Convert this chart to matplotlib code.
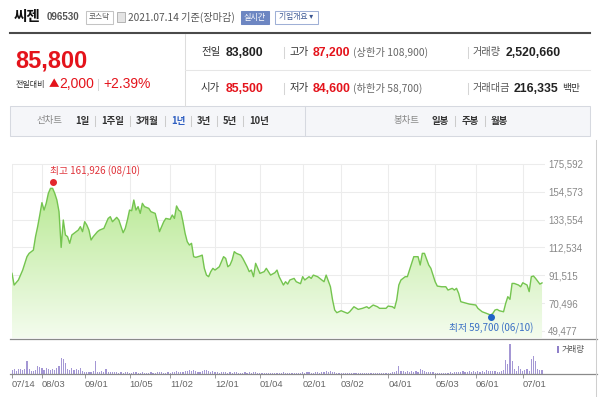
import numpy as np
import matplotlib
matplotlib.use('Agg')
import matplotlib.pyplot as plt
from matplotlib.colors import LinearSegmentedColormap
from matplotlib.patches import Rectangle
from matplotlib.lines import Line2D

plt.rcParams['font.family'] = ['Noto Sans CJK KR', 'DejaVu Sans']
KR = ['Noto Sans CJK KR', 'DejaVu Sans']
NUM = ['Liberation Sans', 'Noto Sans CJK KR', 'DejaVu Sans']

# ---- data ----
start_date = '2020-07-14'
kr_holidays = ['2020-08-17', '2020-09-30', '2020-10-01', '2020-10-02', '2020-10-09',
               '2020-12-25', '2020-12-31', '2021-01-01', '2021-02-11', '2021-02-12',
               '2021-03-01', '2021-05-05', '2021-05-19']
tick_dates = ['2020-07-14', '2020-08-03', '2020-09-01', '2020-10-05', '2020-11-02',
              '2020-12-01', '2021-01-04', '2021-02-01', '2021-03-02', '2021-04-01',
              '2021-05-03', '2021-06-01', '2021-07-01']
tick_labels = ['07/14', '08/03', '09/01', '10/05', '11/02', '12/01', '01/04',
               '02/01', '03/02', '04/01', '05/03', '06/01', '07/01']
price_ticks = [49477, 70496, 91515, 112534, 133554, 154573, 175592]

# trading day number (from 2020-07-14) and closing price
close_day = [0, 1, 3, 4, 5, 7, 8, 10, 11, 12, 13, 14, 15, 16, 17, 18, 19, 20, 21, 22,
             23, 24, 25, 26, 27, 28, 29, 31, 32, 33, 34, 35, 36, 37, 38, 40, 41, 43, 45, 46,
             47, 49, 50, 52, 53, 54, 55, 56, 57, 58, 59, 60, 61, 62, 64, 65, 67, 68, 69, 70,
             71, 72, 74, 75, 76, 77, 78, 79, 80, 81, 82, 83, 84, 85, 86, 88, 89, 90, 91, 92,
             93, 94, 95, 96, 97, 99, 100, 101, 102, 103, 104, 105, 107, 108, 110, 111, 112, 113, 114, 115,
             116, 118, 119, 120, 121, 123, 124, 125, 127, 128, 129, 130, 132, 133, 135, 136, 137, 139, 140, 141,
             143, 144, 146, 147, 149, 150, 151, 152, 154, 157, 158, 160, 162, 164, 166, 167, 169, 171, 172, 175,
             176, 178, 179, 180, 181, 182, 184, 185, 186, 188, 189, 190, 191, 192, 193, 195, 196, 198, 199, 201,
             203, 204, 206, 207, 208, 209, 210, 213, 214, 217, 218, 220, 222, 224, 225, 226, 227, 228, 230, 231,
             232, 233, 234, 235, 237, 238, 239, 241, 242, 243, 244, 245, 247, 248]
close = [93000, 84200, 88000, 91700, 95500, 105600, 108100, 110600, 120700, 128300,
         137100, 146400, 140800, 145900, 153400, 157200, 157200, 153400, 148400, 139600,
         112600, 133300, 122000, 120700, 115700, 122000, 123200, 125700, 128300, 124500,
         132000, 129500, 125700, 118200, 120700, 124500, 125700, 127000, 134500, 135800,
         132000, 135300, 133300, 123700, 127000, 133300, 140800, 140300, 148400, 140800,
         143400, 138300, 145900, 143400, 142100, 139600, 138300, 132000, 124500, 128300,
         132000, 134500, 133800, 137100, 134500, 143900, 140800, 139600, 132000, 123200,
         116900, 114400, 115700, 105600, 105100, 106100, 106800, 96800, 91700, 90500,
         94300, 96800, 95500, 96800, 98000, 105600, 104300, 98000, 99300, 103100,
         109400, 108100, 106800, 104300, 98000, 94300, 95500, 90500, 100600, 96800,
         93000, 94300, 96800, 94300, 91700, 93500, 95500, 90500, 84200, 86700,
         84900, 88000, 89200, 86700, 85200, 90500, 88000, 90500, 89200, 91700,
         90500, 89200, 86700, 91700, 82900, 72900, 65300, 63300, 64800, 62800,
         64000, 67800, 65800, 66600, 67800, 66600, 69100, 67800, 66600, 66600,
         68300, 67800, 66600, 72900, 84200, 88000, 90500, 90500, 95500, 105600,
         105600, 105600, 99300, 108100, 108100, 99300, 96800, 86700, 83400, 82900,
         82900, 80400, 81700, 80400, 81700, 77900, 71600, 70300, 69800, 69100,
         66600, 64000, 62800, 61500, 62800, 65300, 65800, 64800, 64000, 70300,
         75400, 73400, 85400, 85400, 84200, 82900, 85900, 84200, 79200, 90500,
         91000, 89200, 84900, 85800]

# daily volume, million shares
volume = [2.5, 3.2, 2.1, 2.8, 3.0, 2.4, 3.3, 8.0, 3.1, 2.0,
          1.8, 2.2, 4.8, 4.5, 3.9, 2.6, 3.4, 2.9, 2.3, 3.1,
          2.4, 3.6, 5.0, 9.6, 9.0, 6.5, 3.2, 2.7, 3.5, 2.6,
          2.9, 2.2, 3.4, 1.6, 1.3, 1.5, 1.1, 1.4, 1.6, 7.7,
          1.4, 1.2, 1.8, 1.0, 3.0, 1.3, 1.1, 1.4, 1.0, 1.2,
          0.9, 1.1, 0.8, 1.0, 1.2, 0.9, 0.8, 1.3, 1.1, 0.9,
          0.8, 1.0, 0.7, 0.9, 0.8, 1.1, 0.7, 0.8, 1.2, 1.4,
          1.0, 0.9, 0.8, 1.1, 0.9, 1.0, 1.2, 1.6, 1.1, 1.0,
          1.5, 2.1, 1.8, 2.4, 1.6, 2.3, 1.9, 1.3, 1.2, 2.0,
          2.6, 2.2, 1.7, 1.4, 1.9, 1.3, 1.1, 0.9, 1.2, 1.0,
          1.1, 0.9, 1.0, 0.8, 1.2, 1.0, 0.9, 0.7, 0.8, 1.0,
          0.9, 1.1, 0.8, 1.3, 1.0, 0.8, 0.7, 0.9, 0.8, 0.7,
          0.9, 0.8, 0.6, 0.8, 0.9, 0.7, 0.8, 1.0, 0.7, 0.6,
          0.7, 0.8, 0.9, 0.7, 0.6, 0.8, 1.0, 0.9, 1.2, 1.1,
          0.8, 0.9, 1.3, 1.0, 0.8, 1.1, 1.4, 1.6, 1.2, 1.8,
          1.5, 1.1, 0.9, 0.8, 0.7, 0.9, 0.6, 0.8, 0.7, 0.6,
          0.7, 0.6, 0.8, 0.7, 0.6, 0.7, 0.9, 0.6, 0.7, 0.8,
          0.6, 0.7, 0.8, 0.6, 0.7, 0.9, 0.8, 0.7, 1.0, 1.2,
          1.6, 5.2, 2.0, 1.8, 1.3, 1.9, 1.5, 1.7, 1.4, 2.1,
          1.2, 3.2, 2.4, 1.6, 1.1, 1.3, 1.0, 1.2, 0.9, 0.8,
          0.8, 0.9, 0.7, 0.8, 0.9, 1.1, 0.8, 1.0, 1.2, 1.4,
          1.1, 1.6, 1.3, 1.2, 1.8, 1.5, 1.7, 1.3, 2.0, 1.5,
          1.9, 1.4, 2.2, 1.7, 1.6, 1.8, 2.0, 1.5, 1.4, 2.1,
          2.6, 8.8, 6.3, 18.3, 8.2, 3.2, 1.9, 5.0, 3.2, 1.9,
          2.4, 3.2, 2.0, 9.5, 11.3, 8.2, 3.2, 2.5, 2.52]

high_date, high_val = '2020-08-10', 161926
low_date, low_val = '2021-06-10', 59700

left_tabs = ['1일', '1주일', '3개월', '1년', '3년', '5년', '10년']
right_tabs = ['일봉', '주봉', '월봉']

def tday(d):
    return np.busday_count(start_date, d, holidays=kr_holidays)

tick_idx = [tday(d) for d in tick_dates]
n_last = tday('2021-07-14')

# ---- figure helpers (pixel coords, y from top) ----
W, H = 600, 397
fig = plt.figure(figsize=(6, 3.97), dpi=100)
renderer = fig.canvas.get_renderer()

def fx(x):
    return x / W

def fy(y):
    return 1 - y / H

def txt(x, y, s, size=7.5, color='#333333', weight='normal', ha='left', family=KR):
    return fig.text(fx(x), fy(y), s, fontsize=size, color=color, fontweight=weight,
                    ha=ha, va='center', family=family)

def hline(x0, x1, y, color, lw=0.75):
    fig.add_artist(Line2D([fx(x0), fx(x1)], [fy(y), fy(y)], color=color, lw=lw,
                          transform=fig.transFigure))

def vline(x, y0, y1, color, lw=0.75):
    fig.add_artist(Line2D([fx(x), fx(x)], [fy(y0), fy(y1)], color=color, lw=lw,
                          transform=fig.transFigure))

def box(x0, y0, x1, y1, fc, ec, lw=0.75):
    fig.add_artist(Rectangle((fx(x0), fy(y1)), fx(x1) - fx(x0), fy(y0) - fy(y1),
                             transform=fig.transFigure, fc=fc, ec=ec, lw=lw))

def tab_row(labels, x, gap, active=None):
    for k, lab in enumerate(labels):
        if k > 0:
            vline(x - gap / 2, 116, 126, '#cccccc')
        col = '#2f5fc1' if lab == active else '#333333'
        t = txt(x, 121, lab, 6.8, col, 'bold')
        x += t.get_window_extent(renderer).width + gap

RED = '#e4131b'

# ---- header ----
txt(14, 16.5, '씨젠', 10.5, '#111111', 'bold')
txt(47, 17.5, '096530', 7, '#555555', 'bold', family=NUM)
box(86, 11, 113, 23.5, 'white', '#c4c4c4')
txt(99.5, 17.3, '코스닥', 5.5, '#555555', ha='center')
box(117, 12, 125, 22, '#e4e4e4', '#aaaaaa', 0.6)
txt(128, 17.5, '2021.07.14 기준(장마감)', 7.3, '#555555')
box(241, 11, 269, 23.5, '#6d86c2', '#6d86c2')
txt(255, 17.3, '실시간', 5.8, 'white', ha='center')
box(275, 11, 318, 23.5, 'white', '#9fb0d6')
txt(296.5, 17.3, '기업개요 ▾', 5.6, '#3a5591', ha='center')
hline(10, 590, 33, '#4a4a4a', 1.5)

# ---- price info ----
vline(185, 34, 106, '#dddddd')
hline(185, 590, 70, '#e6e6e6')
txt(15, 61, '85,800', 17, RED, 'bold', family=NUM)
txt(16, 85, '전일대비', 5.8, '#333333')
txt(48.5, 84.5, '▲', 7.5, RED)
txt(59, 84.5, '2,000', 10, RED, family=NUM)
vline(98, 79, 90, '#d5d5d5')
txt(103, 84.5, '+2.39%', 10, RED, family=NUM)

txt(201, 52.5, '전일', 7.5, '#333333')
txt(226, 52.5, '83,800', 8.8, '#222222', 'bold', family=NUM)
txt(201, 88.5, '시가', 7.5, '#333333')
txt(226, 88.5, '85,500', 8.8, RED, 'bold', family=NUM)

vline(284, 47, 58, '#d5d5d5')
vline(284, 83, 94, '#d5d5d5')
txt(290, 52.5, '고가', 7.5, '#333333')
txt(313, 52.5, '87,200', 8.8, RED, 'bold', family=NUM)
txt(353, 52.5, '(상한가 108,900)', 7.4, '#666666')
txt(290, 88.5, '저가', 7.5, '#333333')
txt(313, 88.5, '84,600', 8.8, RED, 'bold', family=NUM)
txt(353, 88.5, '(하한가 58,700)', 7.4, '#666666')

vline(468, 47, 58, '#d5d5d5')
vline(468, 83, 94, '#d5d5d5')
txt(473, 52.5, '거래량', 7.3, '#555555')
txt(506, 52.5, '2,520,660', 8.8, '#222222', 'bold', family=NUM)
txt(473, 88.5, '거래대금', 7.3, '#555555')
txt(514, 88.5, '216,335', 8.8, '#222222', 'bold', family=NUM)
txt(562, 88.5, '백만', 7, '#333333')

# ---- tab bar ----
box(10, 106, 590, 136, '#f5f6f9', '#d6d9e0')
vline(305, 106, 136, '#d6d9e0')
txt(37, 121, '선차트', 6.8, '#888888')
tab_row(left_tabs, 75, 12, active='1년')
txt(393, 121, '봉차트', 6.8, '#888888')
tab_row(right_tabs, 432, 12)

# ---- price chart ----
ylo, yhi = 44190, 189940
ax = fig.add_axes([fx(12), fy(338), fx(545) - fx(12), fy(145) - fy(338)])
ax.set_xlim(0, n_last + 1.4)
ax.set_ylim(ylo, yhi)
for s in ax.spines.values():
    s.set_visible(False)
ax.set_xticks([])
ax.set_yticks(price_ticks)
ax.set_yticklabels([f'{v:,}' for v in price_ticks], family=NUM)
ax.yaxis.tick_right()
ax.tick_params(axis='y', length=0, pad=2.2, labelsize=7, labelcolor='#888888')
ax.grid(axis='y', color='#ececec', lw=0.75, zorder=0)
ax.set_axisbelow(True)
ax.vlines(tick_idx, ylo, price_ticks[-1], color='#ececec', lw=0.75, zorder=0)

poly = ax.fill_between(close_day, close, ylo, color='none', lw=0)
cmap = LinearSegmentedColormap.from_list('g', ['#f4fcee', '#b6e890'])
grad = np.linspace(0, 1, 256).reshape(-1, 1)
im = ax.imshow(grad, extent=[0, n_last, ylo, 162000], aspect='auto', cmap=cmap,
               origin='lower', zorder=1)
im.set_clip_path(poly.get_paths()[0], ax.transData)
ax.set_xlim(0, n_last + 1.4)
ax.set_ylim(ylo, yhi)
ax.plot(close_day, close, color='#74c44f', lw=1.0, zorder=3)

hi_x = tday(high_date)
lo_x = tday(low_date)
ax.plot(hi_x, high_val, 'o', ms=4, color='#e3262d', zorder=4)
ax.annotate(f'최고 {high_val:,} (08/10)', (hi_x, high_val), xytext=(-2, 8),
            textcoords='offset points', ha='left', va='center', fontsize=7,
            color='#e0343b')
ax.plot(lo_x, low_val, 'o', ms=4, color='#1f63c6', zorder=4)
ax.annotate(f'최저 {low_val:,} (06/10)', (lo_x, low_val), xytext=(0, -7.5),
            textcoords='offset points', ha='center', va='center', fontsize=7,
            color='#3a6fc4')

# ---- volume chart ----
axv = fig.add_axes([fx(12), fy(374), fx(545) - fx(12), fy(339) - fy(374)])
axv.set_xlim(0, n_last + 1.4)
axv.set_ylim(0, 21.5)
axv.bar(np.arange(len(volume)), volume, width=0.55, color='#a497d4', lw=0)
for s in axv.spines.values():
    s.set_visible(False)
axv.set_yticks([])
axv.set_xticks(tick_idx)
axv.set_xticklabels(tick_labels, ha='left', family=NUM)
axv.tick_params(axis='x', length=3, width=0.6, color='#888888', pad=1.5,
                labelsize=6.8, labelcolor='#666666')
axv.patch.set_alpha(0)

hline(10, 597, 339, '#8a8a8a', 0.9)
hline(10, 597, 374, '#8a8a8a', 0.9)
vline(596, 140, 397, '#cfcfcf')
box(557, 346, 559, 353, '#8f80c9', 'none', 0)
txt(562, 349.5, '거래량', 6, '#555555')

fig.savefig('out.png', dpi=100)
